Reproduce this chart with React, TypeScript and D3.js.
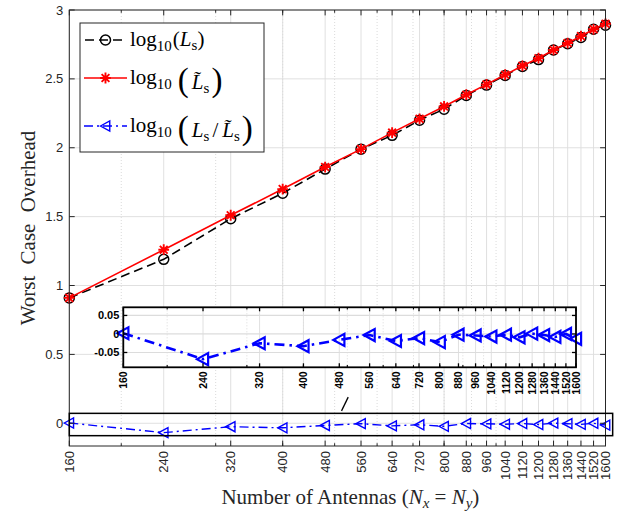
import React from 'react';
import * as d3 from 'd3';

// Number of antennas (x axis, log scale)
const antennas = [160, 240, 320, 400, 480, 560, 640, 720, 800, 880, 960, 1040, 1120, 1200, 1280, 1360, 1440, 1520, 1600];
// log10(Ls)
const logLs = [0.91, 1.19, 1.485, 1.67, 1.845, 1.99, 2.09, 2.2, 2.28, 2.38, 2.455, 2.525, 2.59, 2.64, 2.71, 2.755, 2.8, 2.86, 2.89];
// log10(Ls tilde)
const logLsTilde = [0.91, 1.26, 1.51, 1.70, 1.86, 1.99, 2.11, 2.21, 2.30, 2.385, 2.46, 2.53, 2.595, 2.65, 2.71, 2.76, 2.81, 2.86, 2.90];
// log10(Ls / Ls tilde)
const logRatio = [0.002, -0.068, -0.025, -0.033, -0.016, -0.003, -0.019, -0.011, -0.022, -0.002, -0.004, -0.007, -0.002, -0.009, 0.001, -0.003, -0.008, 0, -0.013];

const yTicks = [0, 0.5, 1, 1.5, 2, 2.5, 3];
const yTickLabels = ['0', '0.5', '1', '1.5', '2', '2.5', '3'];
const insetYTicks = [-0.05, 0, 0.05];
const insetYTickLabels = ['-0.05', '0', '0.05'];
const minorTicks = [200, 300, 400, 500, 600, 700, 800, 900, 1000];

const W = 621;
const H = 515;
const SANS = '"Liberation Sans", Arial, sans-serif';
const SERIF = '"Liberation Serif", "DejaVu Serif", serif';
const AX = '#262626';
const GRID = '#dcdcdc';

const circle = (x: number, y: number, k: string) => (
  <circle key={k} cx={x} cy={y} r={5} fill="none" stroke="#000" strokeWidth={1.5} />
);
const star = (x: number, y: number, k: string, s = 5.4) => (
  <path
    key={k}
    transform={`translate(${x},${y})`}
    d={`M${-s},0H${s}M0,${-s}V${s}M${-s * 0.72},${-s * 0.72}L${s * 0.72},${s * 0.72}M${-s * 0.72},${s * 0.72}L${s * 0.72},${-s * 0.72}`}
    stroke="#ff0000"
    strokeWidth={1.9}
    fill="none"
  />
);
const triLeft = (x: number, y: number, k: string, s = 5, sw = 1.4) => (
  <path
    key={k}
    transform={`translate(${x},${y})`}
    d={`M${-s},0L${s * 0.85},${-s}L${s * 0.85},${s}Z`}
    stroke="#0000ff"
    strokeWidth={sw}
    fill="none"
    strokeLinejoin="miter"
  />
);

export default function App() {
  const m = { left: 69.3, right: 605.5, top: 10, bottom: 446 };
  const x = d3.scaleLog().domain([160, 1600]).range([m.left, m.right]);
  const y = d3.scaleLinear().domain([-0.165, 3]).range([m.bottom, m.top]);

  const ins = { left: 123.3, right: 576, top: 307.3, bottom: 367.3 };
  const xi = d3.scaleLog().domain([160, 1600]).range([ins.left, ins.right]);
  const yi = d3.scaleLinear().domain([-0.09, 0.072]).range([ins.bottom, ins.top]);

  const mainLine = d3
    .line<[number, number]>()
    .x((d) => x(d[0]))
    .y((d) => y(d[1]));
  const insetLine = d3
    .line<[number, number]>()
    .x((d) => xi(d[0]))
    .y((d) => yi(d[1]));

  const lsPts = antennas.map((a, i) => [a, logLs[i]] as [number, number]);
  const lstPts = antennas.map((a, i) => [a, logLsTilde[i]] as [number, number]);
  const ratioPts = antennas.map((a, i) => [a, logRatio[i]] as [number, number]);

  const tl = 5.4;
  const tlm = 2.8;
  const itl = 4;

  return (
    <svg width={W} height={H} style={{ position: 'absolute', left: 0, top: 0, background: '#fff' }}>
      <rect x={0} y={0} width={W} height={H} fill="#fff" />

      {/* main grid */}
      <g>
        {minorTicks.map((t) => (
          <line key={'mg' + t} x1={x(t)} x2={x(t)} y1={m.top} y2={m.bottom} stroke="#d0d0d0" strokeDasharray="1,2" strokeWidth={0.8} />
        ))}
        {antennas.map((t) => (
          <line key={'g' + t} x1={x(t)} x2={x(t)} y1={m.top} y2={m.bottom} stroke={GRID} strokeWidth={0.9} />
        ))}
        {yTicks.map((t) => (
          <line key={'gy' + t} x1={m.left} x2={m.right} y1={y(t)} y2={y(t)} stroke={GRID} strokeWidth={0.9} />
        ))}
      </g>

      {/* series */}
      <path d={mainLine(lsPts) || ''} fill="none" stroke="#000" strokeWidth={1.6} strokeDasharray="9,5" />
      {lsPts.map((d, i) => circle(x(d[0]), y(d[1]), 'c' + i))}
      <path d={mainLine(lstPts) || ''} fill="none" stroke="#ff0000" strokeWidth={1.6} />
      {lstPts.map((d, i) => star(x(d[0]), y(d[1]), 's' + i))}
      <path d={mainLine(ratioPts) || ''} fill="none" stroke="#0000ff" strokeWidth={1.4} strokeDasharray="9,4,2,4" />
      {ratioPts.map((d, i) => triLeft(x(d[0]), y(d[1]), 't' + i))}

      {/* main axes box and ticks */}
      <rect x={m.left} y={m.top} width={m.right - m.left} height={m.bottom - m.top} fill="none" stroke={AX} strokeWidth={1} />
      {antennas.map((t) => (
        <g key={'xt' + t}>
          <line x1={x(t)} x2={x(t)} y1={m.bottom} y2={m.bottom - tl} stroke={AX} />
          <line x1={x(t)} x2={x(t)} y1={m.top} y2={m.top + tl} stroke={AX} />
        </g>
      ))}
      {minorTicks.map((t) => (
        <g key={'xmt' + t}>
          <line x1={x(t)} x2={x(t)} y1={m.bottom} y2={m.bottom - tlm} stroke={AX} />
          <line x1={x(t)} x2={x(t)} y1={m.top} y2={m.top + tlm} stroke={AX} />
        </g>
      ))}
      {yTicks.map((t) => (
        <g key={'yt' + t}>
          <line x1={m.left} x2={m.left + tl} y1={y(t)} y2={y(t)} stroke={AX} />
          <line x1={m.right} x2={m.right - tl} y1={y(t)} y2={y(t)} stroke={AX} />
        </g>
      ))}
      {yTicks.map((t, i) => (
        <text key={'yl' + t} x={m.left - 6} y={y(t)} dy="0.35em" textAnchor="end" fontFamily={SANS} fontSize={13} fill={AX}>
          {yTickLabels[i]}
        </text>
      ))}
      {antennas.map((t) => (
        <text
          key={'xl' + t}
          transform={`translate(${x(t)},${m.bottom + 5}) rotate(-90)`}
          dy="0.35em"
          textAnchor="end"
          fontFamily={SANS}
          fontSize={13}
          fill={AX}
        >
          {t}
        </text>
      ))}

      {/* axis labels */}
      <text x={(m.left + m.right) / 2 + 13} y={504} textAnchor="middle" fontFamily={SERIF} fontSize={21} fill={AX}>
        <tspan>Number of Antennas (</tspan>
        <tspan fontStyle="italic">N</tspan>
        <tspan fontStyle="italic" fontSize={15} dy={4}>x</tspan>
        <tspan dy={-4}> = </tspan>
        <tspan fontStyle="italic">N</tspan>
        <tspan fontStyle="italic" fontSize={15} dy={4}>y</tspan>
        <tspan dy={-4}>)</tspan>
      </text>
      <text
        transform={`translate(35,${(m.top + m.bottom) / 2}) rotate(-90)`}
        textAnchor="middle"
        fontFamily={SERIF}
        fontSize={21}
        wordSpacing={6}
        fill={AX}
      >
        Worst Case Overhead
      </text>

      {/* zoom box around the ratio series */}
      <rect x={x(160)} y={y(0.072)} width={x(1650) - x(160)} height={y(-0.09) - y(0.072)} fill="none" stroke="#000" strokeWidth={1.5} />
      <line x1={x(515)} y1={y(0.09)} x2={x(530)} y2={y(0.19)} stroke="#000" strokeWidth={1.3} />

      {/* legend */}
      <g>
        <rect x={80} y={23} width={184} height={129} fill="#fff" stroke={AX} strokeWidth={1} />
        <line x1={84} x2={127} y1={40} y2={40} stroke="#000" strokeWidth={1.6} strokeDasharray="9,5" strokeDashoffset={-1} />
        {circle(105.5, 40, 'lc')}
        <line x1={84} x2={127} y1={78} y2={78} stroke="#ff0000" strokeWidth={1.6} />
        {star(105.5, 78, 'ls')}
        <line x1={84} x2={127} y1={126} y2={126} stroke="#0000ff" strokeWidth={1.4} strokeDasharray="9,4,2,4" />
        {triLeft(105.5, 126, 'lt')}

        <text x={130} y={46} fontFamily={SERIF} fontSize={21} fill="#000">
          <tspan>log</tspan>
          <tspan fontSize={15} dy={5}>10</tspan>
          <tspan dx={1} dy={-5}>(</tspan>
          <tspan fontStyle="italic">L</tspan>
          <tspan fontSize={15} dy={4}>s</tspan>
          <tspan dy={-4}>)</tspan>
        </text>

        <text x={130} y={84} fontFamily={SERIF} fontSize={21} fill="#000">
          <tspan>log</tspan>
          <tspan fontSize={15} dy={5}>10</tspan>
          <tspan dx={6} dy={2} fontSize={33}>(</tspan>
          <tspan dx={3} dy={-2} fontStyle="italic">{'L\u0303'}</tspan>
          <tspan fontSize={15} dy={4}>s</tspan>
          <tspan dx={2} dy={-2} fontSize={33}>)</tspan>
        </text>

        <text x={130} y={132} fontFamily={SERIF} fontSize={21} fill="#000">
          <tspan>log</tspan>
          <tspan fontSize={15} dy={5}>10</tspan>
          <tspan dx={6} dy={2} fontSize={33}>(</tspan>
          <tspan dx={3} dy={-2} fontStyle="italic">L</tspan>
          <tspan fontSize={15} dy={4}>s</tspan>
          <tspan dx={3} dy={-4}>/</tspan>
          <tspan dx={4} fontStyle="italic">{'L\u0303'}</tspan>
          <tspan fontSize={15} dy={4}>s</tspan>
          <tspan dx={2} dy={-2} fontSize={33}>)</tspan>
        </text>
      </g>

      {/* inset */}
      <g>
        <rect x={ins.left} y={ins.top} width={ins.right - ins.left} height={ins.bottom - ins.top} fill="#fff" />
        {minorTicks.map((t) => (
          <line key={'img' + t} x1={xi(t)} x2={xi(t)} y1={ins.top} y2={ins.bottom} stroke="#d0d0d0" strokeDasharray="1,2" strokeWidth={0.8} />
        ))}
        {antennas.map((t) => (
          <line key={'ig' + t} x1={xi(t)} x2={xi(t)} y1={ins.top} y2={ins.bottom} stroke={GRID} strokeWidth={0.9} />
        ))}
        {insetYTicks.map((t) => (
          <line key={'igy' + t} x1={ins.left} x2={ins.right} y1={yi(t)} y2={yi(t)} stroke={GRID} strokeWidth={1.2} />
        ))}
        <path d={insetLine(ratioPts) || ''} fill="none" stroke="#0000ff" strokeWidth={2.6} strokeDasharray="10,5,2.5,5" />
        {ratioPts.map((d, i) => triLeft(xi(d[0]), yi(d[1]), 'it' + i, 6, 2.2))}
        <rect x={ins.left} y={ins.top} width={ins.right - ins.left} height={ins.bottom - ins.top} fill="none" stroke="#000" strokeWidth={1.8} />
        {antennas.map((t) => (
          <g key={'ixt' + t}>
            <line x1={xi(t)} x2={xi(t)} y1={ins.bottom} y2={ins.bottom - itl} stroke="#000" strokeWidth={1.3} />
            <line x1={xi(t)} x2={xi(t)} y1={ins.top} y2={ins.top + itl} stroke="#000" strokeWidth={1.3} />
          </g>
        ))}
        {minorTicks.map((t) => (
          <g key={'ixmt' + t}>
            <line x1={xi(t)} x2={xi(t)} y1={ins.bottom} y2={ins.bottom - 2.2} stroke="#000" strokeWidth={1.1} />
            <line x1={xi(t)} x2={xi(t)} y1={ins.top} y2={ins.top + 2.2} stroke="#000" strokeWidth={1.1} />
          </g>
        ))}
        {insetYTicks.map((t) => (
          <g key={'iyt' + t}>
            <line x1={ins.left} x2={ins.left + itl} y1={yi(t)} y2={yi(t)} stroke="#000" strokeWidth={1.3} />
            <line x1={ins.right} x2={ins.right - itl} y1={yi(t)} y2={yi(t)} stroke="#000" strokeWidth={1.3} />
          </g>
        ))}
        {insetYTicks.map((t, i) => (
          <text key={'iyl' + t} x={ins.left - 4} y={yi(t)} dy="0.35em" textAnchor="end" fontFamily={SANS} fontWeight="bold" fontSize={11} fill="#000">
            {insetYTickLabels[i]}
          </text>
        ))}
        {antennas.map((t) => (
          <text
            key={'ixl' + t}
            transform={`translate(${xi(t)},${ins.bottom + 4}) rotate(-90)`}
            dy="0.35em"
            textAnchor="end"
            fontFamily={SANS}
            fontWeight="bold"
            fontSize={10.5}
            fill="#000"
          >
            {t}
          </text>
        ))}
      </g>
    </svg>
  );
}
